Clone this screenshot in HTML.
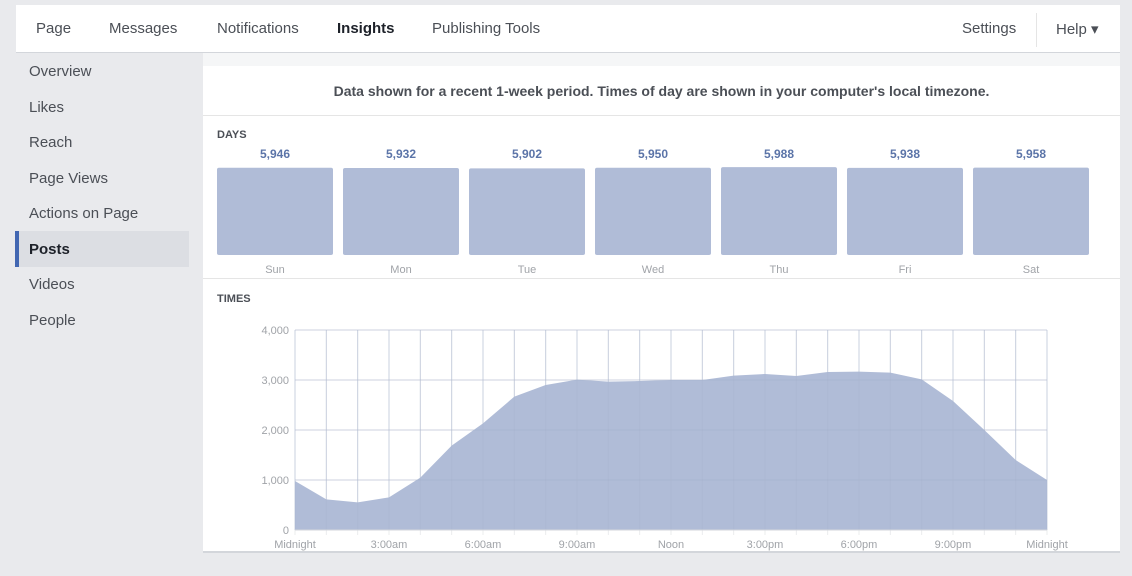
<!DOCTYPE html>
<html><head><meta charset="utf-8"><style>
body{margin:0;width:1132px;height:576px;background:#e9eaed;font-family:"Liberation Sans",sans-serif;position:relative;overflow:hidden}
.abs{position:absolute}
.nav{left:16px;top:5px;width:1104px;height:47px;background:#fff;border-bottom:1px solid #d3d6db}
.nav span{position:absolute;top:15px;font-size:15px;color:#4b4f56}
.side div{position:absolute;left:29px;font-size:15px;color:#4b4f56}
</style></head><body>
<div class="abs nav">
<span style="left:20px">Page</span>
<span style="left:93px">Messages</span>
<span style="left:201px">Notifications</span>
<span style="left:321px;font-weight:bold;color:#1d2129">Insights</span>
<span style="left:416px">Publishing Tools</span>
<span style="left:946px">Settings</span>
<div class="abs" style="left:1020px;top:8px;width:1px;height:34px;background:#e5e5e5"></div>
<span style="left:1040px">Help ▾</span>
</div>
<div class="side">
<div style="top:63px">Overview</div>
<div style="top:99px">Likes</div>
<div style="top:134px">Reach</div>
<div style="top:170px">Page Views</div>
<div style="top:205px">Actions on Page</div>
<div class="abs" style="left:15px;top:231px;width:174px;height:36px;background:#dcdee3;border-left:4px solid #4267b2;box-sizing:border-box"></div>
<div style="top:241px;font-weight:bold;color:#1d2129">Posts</div>
<div style="top:276px">Videos</div>
<div style="top:312px">People</div>
</div>
<div class="abs" style="left:203px;top:53px;width:917px;height:13px;background:#f5f6f7;border-bottom:1px solid #dddfe2"></div>
<div class="abs" style="left:203px;top:66px;width:917px;height:485px;background:#fff;border-bottom:2px solid #d3d6db">
<div class="abs" style="left:0;top:17px;width:917px;text-align:center;font-size:14px;font-weight:bold;color:#4b4f56">Data shown for a recent 1-week period. Times of day are shown in your computer's local timezone.</div>
<div class="abs" style="left:0;top:49px;width:917px;height:1px;background:#e5e5e5"></div>
<div class="abs" style="left:14px;top:63px;font-size:11px;font-weight:bold;color:#4b4f56">DAYS</div>
<div class="abs" style="left:0;top:212px;width:917px;height:1px;background:#e5e5e5"></div>
<div class="abs" style="left:14px;top:227px;font-size:11px;font-weight:bold;color:#4b4f56">TIMES</div>
</div>
<svg class="abs" style="left:0;top:0" width="1132" height="576" id="chart"></svg>
<script>
const days=["Sun","Mon","Tue","Wed","Thu","Fri","Sat"];
const dayValues=[5946,5932,5902,5950,5988,5938,5958];
const hourValues=[980,613,553,653,1047,1687,2133,2667,2900,3007,2967,2980,3000,3000,3087,3120,3080,3160,3167,3147,3013,2580,2000,1400,1000];
const yTicks=[0,1000,2000,3000,4000];
const xTickLabels=["Midnight","3:00am","6:00am","9:00am","Noon","3:00pm","6:00pm","9:00pm","Midnight"];
const svg=document.getElementById('chart');const NS='http://www.w3.org/2000/svg';
function mk(t,a,txt){const e=document.createElementNS(NS,t);for(const k in a)e.setAttribute(k,a[k]);if(txt!=null)e.textContent=txt;svg.appendChild(e);return e;}
const barH=v=>v/6000*88;
days.forEach((d,i)=>{const x=217+i*126;const h=barH(dayValues[i]);
const r=mk('rect',{x:x,y:255-h,width:116,height:h,rx:2,fill:'#b0bcd7'});


const v=mk('text',{x:x+58,y:158,'text-anchor':'middle','font-size':12,'font-weight':'bold',fill:'#5b74a8'},dayValues[i].toLocaleString('en-US'));


const l=mk('text',{x:x+58,y:273,'text-anchor':'middle','font-size':11,fill:'#a0a3a8'},d);

});
const x0=295,x1=1047,yb=530,yt=330;
const xs=h=>x0+(x1-x0)*h/24;const ys=v=>yb-(yb-yt)*v/4000;
for(let h=0;h<=24;h++){mk('line',{x1:xs(h),x2:xs(h),y1:yt,y2:yb+5,stroke:'#ebecee'});}
yTicks.forEach(t=>{mk('line',{x1:x0,x2:x1,y1:ys(t),y2:ys(t),stroke:'#ebecee'});
const tl=mk('text',{x:289,y:ys(t)+4,'text-anchor':'end','font-size':11,fill:'#a0a3a8'},t.toLocaleString('en-US'));

});
let d='M'+xs(0)+','+ys(0);hourValues.forEach((v,i)=>{d+=' L'+xs(i)+','+ys(v);});d+=' L'+xs(24)+','+ys(0)+'Z';
const a=mk('path',{d:d,fill:'#b0bcd7'});


for(let h=0;h<=24;h++){mk('line',{x1:xs(h),x2:xs(h),y1:yt,y2:yb,stroke:'#a9b5d0','stroke-opacity':0.5});}
yTicks.forEach(t=>{if(t>0)mk('line',{x1:x0,x2:x1,y1:ys(t),y2:ys(t),stroke:'#a0acc8','stroke-opacity':0.4});});
mk('line',{x1:x0,x2:x1,y1:yb,y2:yb,stroke:'#d3d6db'});
xTickLabels.forEach((l,i)=>{const t=mk('text',{x:xs(i*3),y:548,'text-anchor':'middle','font-size':11,fill:'#a0a3a8'},l);

});
</script>
</body></html>
